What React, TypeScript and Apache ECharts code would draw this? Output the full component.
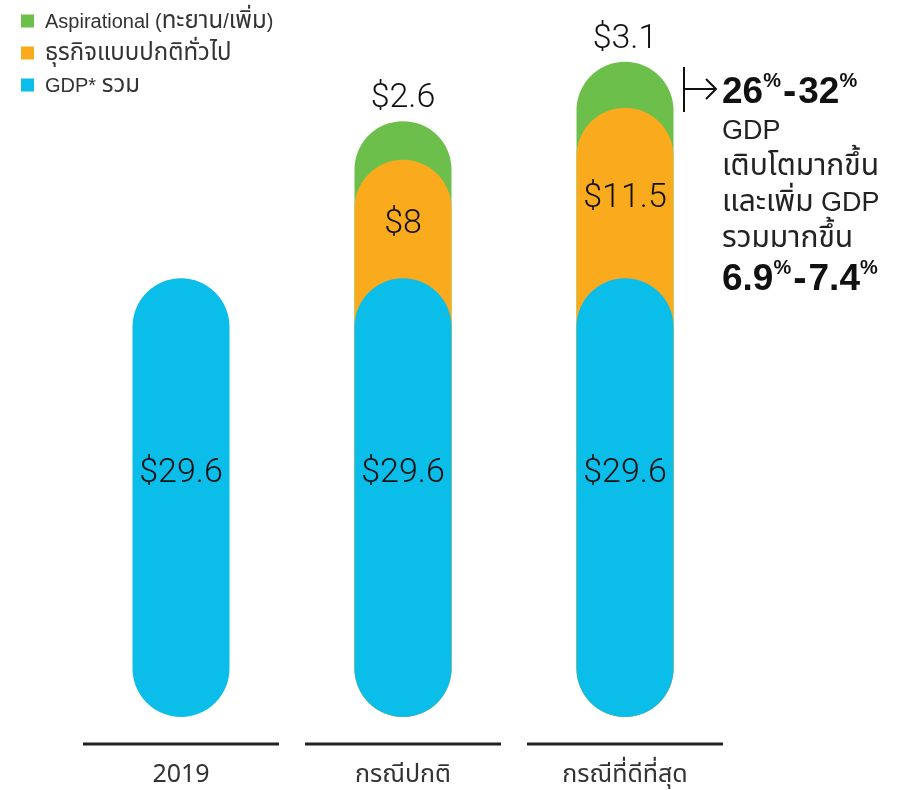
import React, { useEffect, useRef } from "react";
import * as echarts from "echarts";

const categories = ["2019", "กรณีปกติ", "กรณีที่ดีที่สุด"];
const gdpTotal = [29.6, 29.6, 29.6];
const businessAsUsual = [null, 8, 11.5];
const aspirational = [null, 2.6, 3.1];
const seriesNames = ["Aspirational (ทะยาน/เพิ่ม)", "ธุรกิจแบบปกติทั่วไป", "GDP* รวม"];
const annotationLines = ["GDP", "เติบโตมากขึ้น", "และเพิ่ม GDP", "รวมมากขึ้น"];
const colors = { green: "#6dbf4b", orange: "#f9aa1d", blue: "#0bbde9" };

const FONT = "'Liberation Sans', 'Noto Sans Thai', Roboto, sans-serif";
const THAIFONT = "'Noto Sans Thai', 'Liberation Sans', sans-serif";
const AXFONT = "'Noto Sans Thai', 'Liberation Sans', Roboto, sans-serif";
const NUMFONT = "Roboto, 'Liberation Sans', sans-serif";
const BOLDFONT = "'Liberation Sans', Arial, sans-serif";

const thaiRich = (s: string) =>
  s
    .split(/([\u0E00-\u0E7F]+)/)
    .filter((p) => p.length)
    .map((p) => (/[\u0E00-\u0E7F]/.test(p) ? `{t|${p}}` : `{l|${p}}`))
    .join("");

export default function App() {
  const ref = useRef<HTMLDivElement>(null);
  useEffect(() => {
    if (!ref.current) return;
    const chart = echarts.init(ref.current, undefined, { renderer: "svg" });
    const orangeTop = gdpTotal.map((g, i) => (businessAsUsual[i] == null ? null : g + (businessAsUsual[i] as number)));
    const greenTop = orangeTop.map((o, i) => (o == null || aspirational[i] == null ? null : o + (aspirational[i] as number)));
    const BW = 97;
    const R = 48.5;
    const valLabel = { fontFamily: NUMFONT, fontSize: 34, fontWeight: 300 as any, color: "#111" };
    const bigRich = {
      a: { fontFamily: BOLDFONT, fontSize: 37, fontWeight: "bold", fill: "#111", lineHeight: 40 },
      d: { fontFamily: BOLDFONT, fontSize: 40, fontWeight: "bold", fill: "#111", lineHeight: 40, padding: [0, 2, 0, 2] },
      s: { fontFamily: BOLDFONT, fontSize: 20, fontWeight: "bold", fill: "#111", lineHeight: 28, verticalAlign: "top" },
    };
    chart.setOption({
      animation: false,
      legend: {
        data: seriesNames,
        orient: "vertical",
        left: 16,
        top: 4,
        itemWidth: 13,
        itemHeight: 13,
        itemGap: 8,
        icon: "rect",
        formatter: (name: string) => thaiRich(name),
        textStyle: {
          fontFamily: FONT,
          fontSize: 20,
          color: "#333",
          padding: [0, 0, 0, 6],
          rich: {
            l: { fontFamily: FONT, fontSize: 20, color: "#333", lineHeight: 24 },
            t: { fontFamily: THAIFONT, fontSize: 24, color: "#333", lineHeight: 24 },
          },
        },
      },
      grid: { left: 70, right: 181, top: 50, bottom: 73 },
      xAxis: {
        type: "category",
        data: categories,
        axisLine: { show: false },
        axisTick: { show: false },
        axisLabel: { margin: 44, fontFamily: AXFONT, fontSize: 25, lineHeight: 25, color: "#333" },
      },
      yAxis: { type: "value", min: 0, max: 45, show: false },
      series: [
        {
          name: seriesNames[0],
          type: "bar",
          data: greenTop,
          barWidth: BW,
          barGap: "-100%",
          itemStyle: { color: colors.green, borderRadius: R },
          label: {
            show: true,
            position: "top",
            distance: 9,
            ...valLabel,
            formatter: (p: any) => "$" + aspirational[p.dataIndex],
          },
        },
        {
          name: seriesNames[1],
          type: "bar",
          data: orangeTop,
          barWidth: BW,
          barGap: "-100%",
          itemStyle: { color: colors.orange, borderRadius: R },
        },
        {
          name: seriesNames[2],
          type: "bar",
          data: gdpTotal,
          barWidth: BW,
          barGap: "-100%",
          itemStyle: { color: colors.blue, borderRadius: R },
          label: {
            show: true,
            position: "inside",
            offset: [0, -28],
            ...valLabel,
            formatter: (p: any) => "$" + p.value,
          },
        },
        {
          type: "bar",
          stack: "lbl",
          data: gdpTotal,
          barWidth: BW,
          barGap: "-100%",
          silent: true,
          itemStyle: { color: "transparent" },
        },
        {
          type: "bar",
          stack: "lbl",
          data: businessAsUsual,
          barWidth: BW,
          barGap: "-100%",
          silent: true,
          itemStyle: { color: "transparent" },
          label: {
            show: true,
            position: "inside",
            offset: [0, 2],
            ...valLabel,
            formatter: (p: any) => "$" + p.value,
          },
        },
        {
          type: "custom",
          silent: true,
          data: categories.map((_, i) => [i, 0]),
          renderItem: (params: any, api: any) => {
            const c = api.coord([api.value(0), 0]);
            const w = api.size([1, 0])[0];
            return {
              type: "line",
              shape: { x1: c[0] - w / 2 + 13, y1: c[1] + 27, x2: c[0] + w / 2 - 13, y2: c[1] + 27 },
              style: { stroke: "#222", lineWidth: 3 },
            };
          },
        },
      ],
      graphic: [
        { type: "line", shape: { x1: 684, y1: 67, x2: 684, y2: 112 }, style: { stroke: "#111", lineWidth: 2 } },
        { type: "line", shape: { x1: 684, y1: 89, x2: 716, y2: 89 }, style: { stroke: "#111", lineWidth: 2 } },
        { type: "polyline", shape: { points: [[706, 79], [716, 89], [706, 99]] }, style: { stroke: "#111", lineWidth: 2, fill: "none" } },
        {
          type: "text",
          x: 722,
          y: 70,
          style: { text: "{a|26}{s|%}{d|-}{a|32}{s|%}", rich: bigRich },
        },
        {
          type: "text",
          x: 722,
          y: 112,
          style: {
            text: annotationLines.map(thaiRich).join("\n"),
            rich: {
              l: { fontFamily: FONT, fontSize: 27, fill: "#222", lineHeight: 36 },
              t: { fontFamily: THAIFONT, fontSize: 30, fill: "#222", lineHeight: 36 },
            },
          },
        },
        {
          type: "text",
          x: 722,
          y: 257,
          style: { text: "{a|6.9}{s|%}{d|-}{a|7.4}{s|%}", rich: bigRich },
        },
      ],
    });
    return () => chart.dispose();
  }, []);
  return <div ref={ref} style={{ position: "fixed", left: 0, top: 0, width: 917, height: 790 }} />;
}
